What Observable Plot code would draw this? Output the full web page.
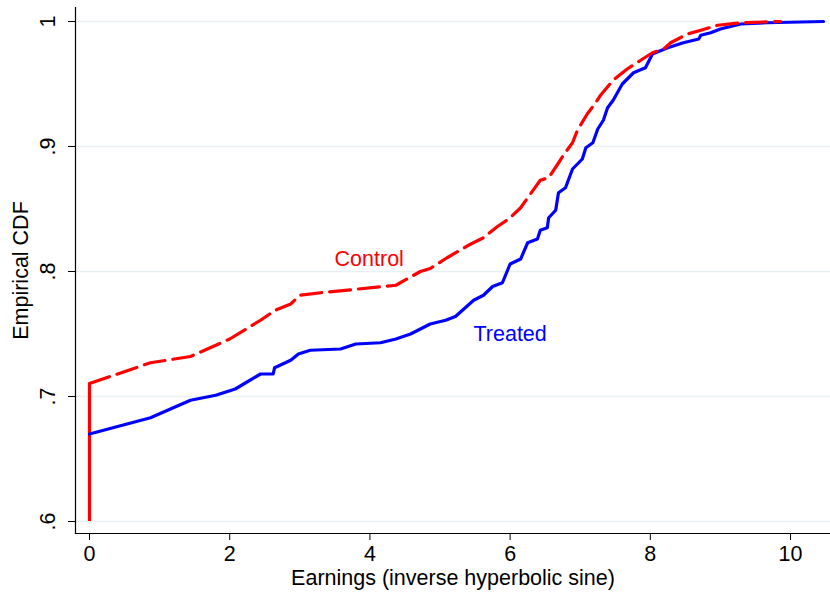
<!DOCTYPE html>
<html>
<head>
<meta charset="utf-8">
<script src="https://cdn.jsdelivr.net/npm/d3@7"></script>
<script src="https://cdn.jsdelivr.net/npm/@observablehq/plot@0.6"></script>
<style>
  html, body { margin: 0; padding: 0; background: #fff; }
  #chart { width: 830px; height: 595px; }
</style>
</head>
<body>
<div id="chart"></div>
<script>
// Control (red dashed) empirical CDF points: [earnings, cdf]
const controlX = [0, 0.87, 1.44, 2.0, 2.44, 2.65, 2.87, 3.0, 3.3, 4.37, 4.72, 4.86, 5.1, 5.44, 5.62, 5.82, 5.98, 6.15, 6.29, 6.43, 6.55, 6.68, 6.76, 6.89, 6.96, 7.1, 7.22, 7.29, 7.47, 7.67, 7.89, 8.03, 8.19, 8.29, 8.53, 8.72, 8.96, 9.29, 9.86];
const controlY = [0.7104, 0.727, 0.732, 0.746, 0.761, 0.769, 0.774, 0.781, 0.783, 0.789, 0.800, 0.8024, 0.811, 0.822, 0.827, 0.836, 0.842, 0.851, 0.862, 0.873, 0.875, 0.886, 0.893, 0.903, 0.913, 0.926, 0.935, 0.941, 0.953, 0.962, 0.970, 0.975, 0.978, 0.983, 0.990, 0.993, 0.997, 0.999, 1.0];

// Treated (blue solid)
const treatedX = [0, 0.87, 1.44, 1.8, 2.08, 2.44, 2.62, 2.64, 2.87, 2.98, 3.15, 3.58, 3.8, 4.15, 4.37, 4.58, 4.86, 5.08, 5.22, 5.34, 5.48, 5.62, 5.75, 5.89, 6.0, 6.15, 6.25, 6.39, 6.43, 6.53, 6.55, 6.65, 6.69, 6.79, 6.89, 7.03, 7.08, 7.18, 7.25, 7.33, 7.39, 7.47, 7.6, 7.76, 7.93, 8.03, 8.25, 8.47, 8.69, 8.72, 8.86, 9.0, 9.29, 9.67, 10.47];
const treatedY = [0.670, 0.683, 0.697, 0.701, 0.706, 0.718, 0.718, 0.723, 0.729, 0.734, 0.737, 0.738, 0.742, 0.743, 0.746, 0.750, 0.758, 0.761, 0.764, 0.770, 0.777, 0.781, 0.788, 0.791, 0.806, 0.810, 0.823, 0.826, 0.833, 0.835, 0.843, 0.849, 0.863, 0.867, 0.882, 0.890, 0.899, 0.903, 0.914, 0.921, 0.931, 0.937, 0.950, 0.959, 0.963, 0.974, 0.979, 0.983, 0.986, 0.989, 0.991, 0.994, 0.998, 0.999, 1.0];

const xTicks = [0, 2, 4, 6, 8, 10];
const yTicks = [0.6, 0.7, 0.8, 0.9, 1.0];
const yTickLabels = [".6", ".7", ".8", ".9", "1"];

const labelNames = ["Control", "Treated"];
const labelX = [3.99, 6.0];
const labelY = [0.8096, 0.750];
const labelColors = ["#ff0000", "#0000ff"];

const control = controlX.map((x, i) => ({x, y: controlY[i]}));
const treated = treatedX.map((x, i) => ({x, y: treatedY[i]}));
const labels = labelNames.map((t, i) => ({t, x: labelX[i], y: labelY[i], c: labelColors[i]}));

const font = "'Liberation Sans', Arial, Helvetica, sans-serif";
const fs = 21.5;

const chart = Plot.plot({
  width: 830,
  height: 595,
  marginLeft: 75,
  marginRight: 0,
  marginTop: 7,
  marginBottom: 62,
  style: {fontFamily: font, background: "#fff", color: "#000"},
  x: {domain: [-0.1997, 10.57], ticks: xTicks},
  y: {domain: [0.5904, 1.0112], ticks: yTicks},
  marks: [
    Plot.gridY(yTicks, {stroke: "#e8f0f2", strokeOpacity: 1, strokeWidth: 1.5}),
    Plot.frame({anchor: "left", stroke: "#000", strokeWidth: 1.2}),
    Plot.frame({anchor: "bottom", stroke: "#000", strokeWidth: 1.2}),
    Plot.axisX({ticks: xTicks, tickSize: 7, tickPadding: 5, fontSize: fs, label: null, stroke: "#000"}),
    Plot.axisY({ticks: yTicks, tickFormat: (d) => yTickLabels[yTicks.indexOf(d)], tickSize: 7, tickPadding: 14, tickRotate: -90, fontSize: fs, label: null, stroke: "#000"}),
    Plot.text(["Earnings (inverse hyperbolic sine)"], {frameAnchor: "bottom", dy: 51, fontSize: fs, fill: "#000", textAnchor: "middle"}),
    Plot.text(["Empirical CDF"], {frameAnchor: "left", dx: -54, rotate: -90, fontSize: fs, fill: "#000", textAnchor: "middle"}),
    Plot.ruleX([0], {y1: 0.6, y2: controlY[0], stroke: "#ff0000", strokeWidth: 3.2}),
    Plot.line(treated, {x: "x", y: "y", stroke: "#0000ff", strokeWidth: 3.2}),
    Plot.line(control, {x: "x", y: "y", stroke: "#ff0000", strokeWidth: 3.2, strokeDasharray: "21,8"}),
    Plot.text(labels, {x: "x", y: "y", text: "t", fill: "c", fontSize: fs})
  ]
});
document.getElementById("chart").appendChild(chart);
</script>
</body>
</html>
